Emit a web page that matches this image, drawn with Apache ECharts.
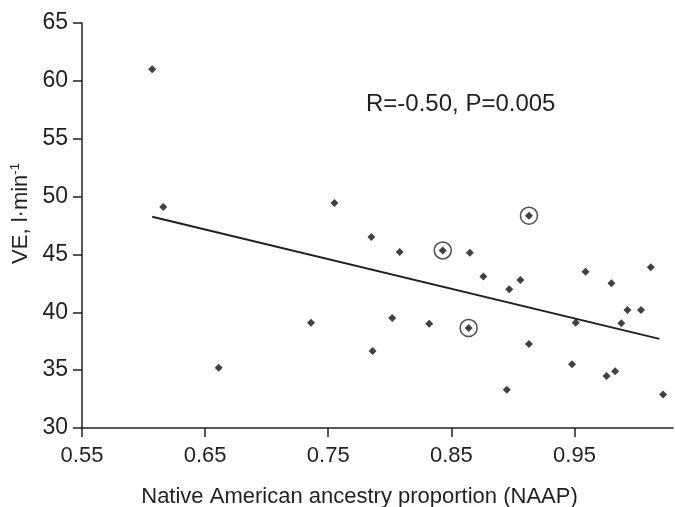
<!DOCTYPE html>
<html>
<head>
<meta charset="utf-8">
<title>VE vs NAAP</title>
<script src="https://cdn.jsdelivr.net/npm/echarts@6/dist/echarts.min.js"></script>
<style>
    html, body { margin: 0; padding: 0; background: #fff; }
    #main { width: 675px; height: 507px; }
</style>
</head>
<body>
<div id="main"></div>
<script>
// 数据: 横轴 NAAP, 纵轴 VE
var naap = [0.607, 0.616, 0.661, 0.736, 0.755, 0.785, 0.786, 0.802, 0.808, 0.832,
            0.843, 0.864, 0.865, 0.876, 0.895, 0.897, 0.906, 0.913, 0.913, 0.948,
            0.951, 0.959, 0.976, 0.980, 0.983, 0.988, 0.993, 1.004, 1.012, 1.022];
var ve = [61.0, 49.1, 35.2, 39.1, 49.45, 46.5, 36.65, 39.5, 45.2, 39.0,
          45.35, 38.65, 45.15, 43.1, 33.3, 42.0, 42.8, 48.35, 37.25, 35.5,
          39.1, 43.5, 34.5, 42.5, 34.9, 39.05, 40.2, 40.2, 43.9, 32.9];

// 圈出的点 (下标)
var circled = [10, 11, 17];

// 回归线两端
var fitX = [0.607, 1.019];
var fitY = [48.25, 37.7];

// 刻度
var xTicks = [0.55, 0.65, 0.75, 0.85, 0.95];

var statText = 'R=-0.50, P=0.005';
var xName = 'Native American ancestry proportion (NAAP)';

var ink = '#231f20';
var font = 'Liberation Sans, Arial, sans-serif';

function pairs(xs, ys) {
    var out = [];
    for (var i = 0; i < xs.length; i++) {
        out.push([xs[i], ys[i]]);
    }
    return out;
}

var points = pairs(naap, ve);
var rings = [];
for (var i = 0; i < circled.length; i++) {
    rings.push(points[circled[i]]);
}

var myChart = echarts.init(document.getElementById('main'), null, {renderer: 'canvas'});

var option = {
    animation: false,
    grid: {left: 82, right: 2, top: 23, bottom: 79, containLabel: false, outerBoundsMode: 'none'},
    xAxis: {
        type: 'value',
        min: 0.55,
        max: 1.03,
        name: xName,
        nameLocation: 'middle',
        nameGap: 58,
        nameTextStyle: {color: ink, fontSize: 22, fontFamily: font, padding: [0, 36, 0, 0]},
        axisLine: {lineStyle: {color: ink, width: 1.5}},
        axisTick: {show: true, length: 9, customValues: xTicks, lineStyle: {color: ink, width: 1.5}},
        axisLabel: {
            customValues: xTicks,
            margin: 17,
            color: ink,
            fontSize: 22,
            fontFamily: font,
            formatter: function (v) { return v.toFixed(2); }
        },
        splitLine: {show: false}
    },
    yAxis: {
        type: 'value',
        min: 30,
        max: 65,
        interval: 5,
        name: 'VE, l·min{sup|-1}',
        nameLocation: 'middle',
        nameGap: 46,
        nameTextStyle: {
            color: ink, fontSize: 22, fontFamily: font, padding: [0, 0, 0, 24],
            rich: {
                sup: {color: ink, fontSize: 13, fontFamily: font, verticalAlign: 'top', padding: [0, 0, 10, 0]}
            }
        },
        axisLine: {show: true, lineStyle: {color: ink, width: 1.5}},
        axisTick: {show: true, length: 9, lineStyle: {color: ink, width: 1.5}},
        axisLabel: {margin: 14, color: ink, fontSize: 23, fontFamily: font},
        splitLine: {show: false}
    },
    graphic: [{
        type: 'text',
        left: 366,
        top: 92,
        style: {text: statText, fill: ink, fontSize: 24, fontFamily: font}
    }],
    series: [
        {
            // 回归线
            type: 'line',
            data: pairs(fitX, fitY),
            symbol: 'none',
            lineStyle: {color: ink, width: 2},
            z: 2
        },
        {
            type: 'scatter',
            data: points,
            symbol: 'diamond',
            symbolSize: 8,
            itemStyle: {color: '#111'},
            z: 3
        },
        {
            // 圈
            type: 'scatter',
            data: rings,
            symbol: 'circle',
            symbolSize: 17,
            itemStyle: {color: 'none', borderColor: ink, borderWidth: 1.5},
            z: 4
        }
    ]
};

myChart.setOption(option);
</script>
</body>
</html>
